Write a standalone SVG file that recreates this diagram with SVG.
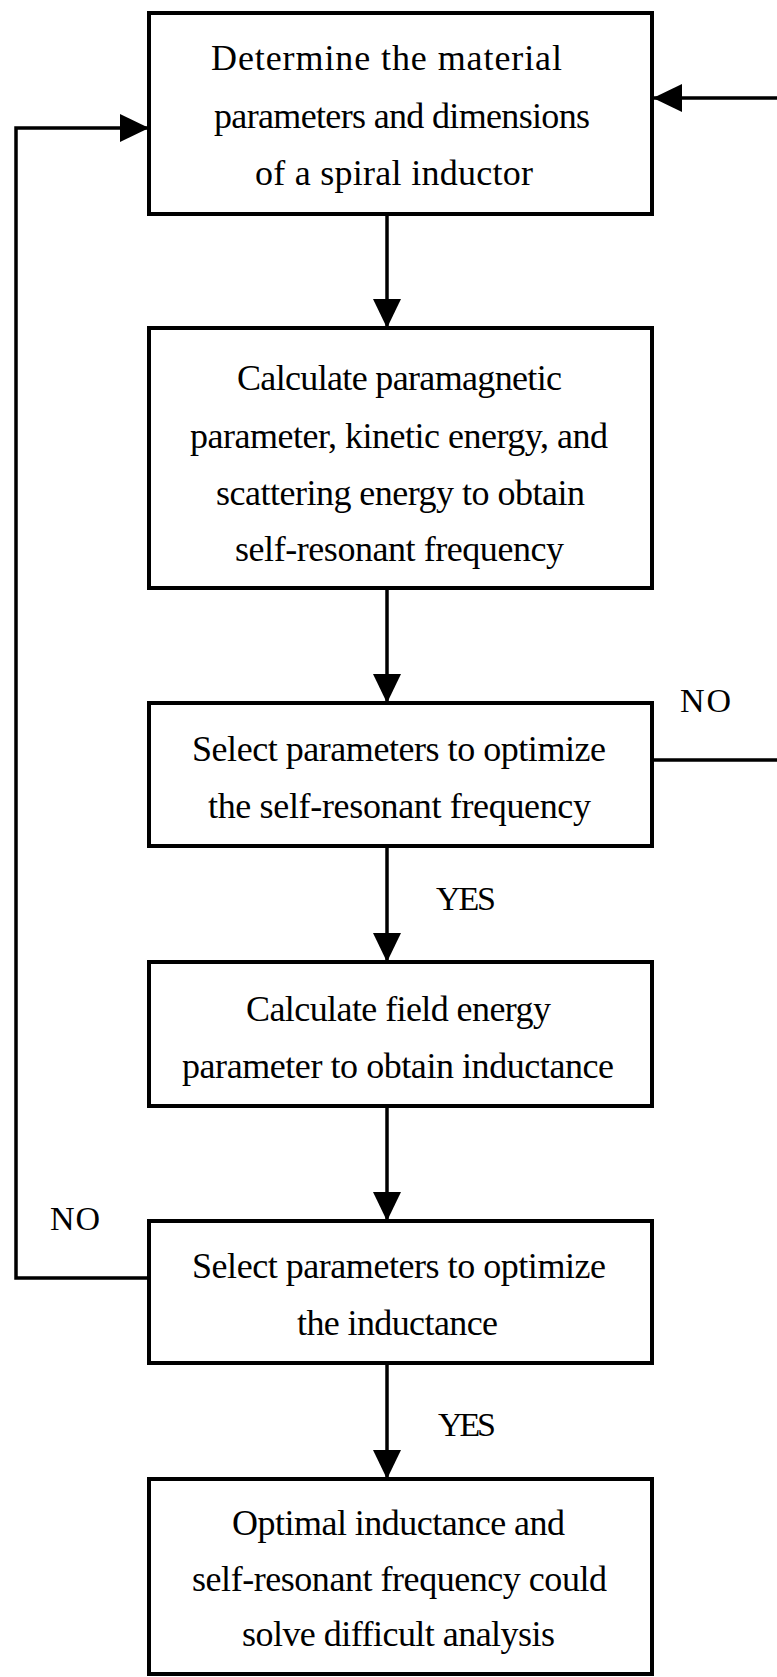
<svg xmlns="http://www.w3.org/2000/svg" width="777" height="1677" viewBox="0 0 777 1677">
<style>
.box{fill:#fff;stroke:#000;stroke-width:4}
.t{font-family:"Liberation Serif","Times New Roman",serif;font-size:36px;fill:#000}
.lbl{font-family:"Liberation Serif","Times New Roman",serif;font-size:34px;fill:#000}
.c{fill:none;stroke:#000;stroke-width:3.5}
</style>
<defs>
<marker id="ah" markerUnits="userSpaceOnUse" markerWidth="30" markerHeight="30" refX="29" refY="14" orient="auto">
<path d="M0,0 L29,14 L0,28 z" fill="#000"/>
</marker>
</defs>
<rect width="777" height="1677" fill="#fff"/>
<g id="connectors">
<line class="c" x1="387" y1="214" x2="387" y2="328" marker-end="url(#ah)"/>
<line class="c" x1="387" y1="588" x2="387" y2="703" marker-end="url(#ah)"/>
<line class="c" x1="387" y1="846" x2="387" y2="962" marker-end="url(#ah)"/>
<line class="c" x1="387" y1="1106" x2="387" y2="1221" marker-end="url(#ah)"/>
<line class="c" x1="387" y1="1363" x2="387" y2="1479" marker-end="url(#ah)"/>
<path class="c" d="M652,760 H790 V98 H653" marker-end="url(#ah)"/>
<path class="c" d="M149,1278 H16 V128 H149" marker-end="url(#ah)"/>
<text class="lbl" x="680" y="712" textLength="51">NO</text>
<text class="lbl" x="436" y="910" textLength="60">YES</text>
<text class="lbl" x="50" y="1230" textLength="50">NO</text>
<text class="lbl" x="438" y="1436" textLength="58">YES</text>
</g>
<g id="n1">
<rect class="box" x="149" y="13" width="503" height="201"/>
<text class="t" x="211" y="70" textLength="351">Determine the material</text>
<text class="t" x="214" y="128" textLength="376">parameters and dimensions</text>
<text class="t" x="255" y="185" textLength="278">of a spiral inductor</text>
</g>
<g id="n2">
<rect class="box" x="149" y="328" width="503" height="260"/>
<text class="t" x="237" y="390" textLength="325">Calculate paramagnetic</text>
<text class="t" x="190" y="448" textLength="418">parameter, kinetic energy, and</text>
<text class="t" x="216" y="505" textLength="369">scattering energy to obtain</text>
<text class="t" x="235" y="561" textLength="329">self-resonant frequency</text>
</g>
<g id="n3">
<rect class="box" x="149" y="703" width="503" height="143"/>
<text class="t" x="192" y="761" textLength="414">Select parameters to optimize</text>
<text class="t" x="208" y="818" textLength="383">the self-resonant frequency</text>
</g>
<g id="n4">
<rect class="box" x="149" y="962" width="503" height="144"/>
<text class="t" x="246" y="1021" textLength="305">Calculate field energy</text>
<text class="t" x="182" y="1078" textLength="432">parameter to obtain inductance</text>
</g>
<g id="n5">
<rect class="box" x="149" y="1221" width="503" height="142"/>
<text class="t" x="192" y="1278" textLength="414">Select parameters to optimize</text>
<text class="t" x="297" y="1335" textLength="201">the inductance</text>
</g>
<g id="n6">
<rect class="box" x="149" y="1479" width="503" height="195"/>
<text class="t" x="232" y="1535" textLength="333">Optimal inductance and</text>
<text class="t" x="192" y="1591" textLength="415">self-resonant frequency could</text>
<text class="t" x="242" y="1646" textLength="313">solve difficult analysis</text>
</g>
</svg>
